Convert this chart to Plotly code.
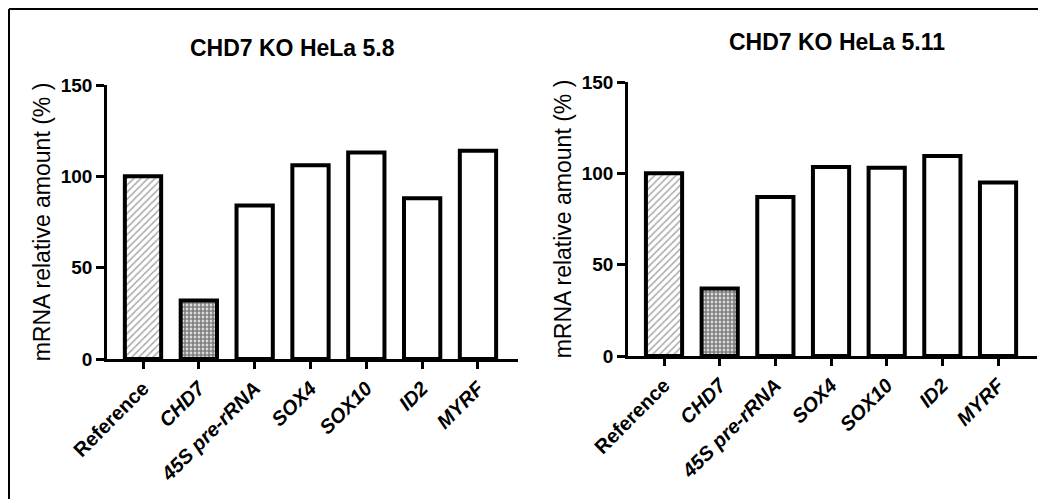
import plotly.graph_objects as go

categories = ["Reference", "CHD7", "45S pre-rRNA", "SOX4", "SOX10", "ID2", "MYRF"]
italic_flags = [False, True, True, True, True, True, True]
values_hela_5_8 = [100, 32, 84, 106, 113, 88, 114]
values_hela_5_11 = [100, 37, 87, 103.5, 103, 109.5, 95]
y_ticks = [0, 50, 100, 150]
titles = ["CHD7 KO HeLa 5.8", "CHD7 KO HeLa 5.11"]
y_title = "mRNA relative amount (% )"

# page body has an 8px margin: work in screen pixels, convert to paper coords
OFF = 8
W, H = 1046 - OFF, 499 - OFF
FONT = "Arial, Liberation Sans, sans-serif"

def px(x):
    return (x - OFF) / W

def py(y):
    return 1 - (y - OFF) / H

tick_text = [("<b><i>%s</i></b>" % c) if it else ("<b>%s</b>" % c) for c, it in zip(categories, italic_flags)]

pattern_shapes = ["/", ".", "", "", "", "", ""]
pattern_fg = ["#555555", "#000000", "#000000", "#000000", "#000000", "#000000", "#000000"]
pattern_sol = [0.3, 0.72, 0.3, 0.3, 0.3, 0.3, 0.3]
pattern_size = [5, 4, 8, 8, 8, 8, 8]

fig = go.Figure()
for i, vals in enumerate([values_hela_5_8, values_hela_5_11]):
    sfx = "" if i == 0 else "2"
    fig.add_trace(go.Bar(
        x=categories, y=vals, width=0.65,
        xaxis="x" + sfx, yaxis="y" + sfx,
        marker=dict(color="white",
                    line=dict(color="black", width=4),
                    pattern=dict(shape=pattern_shapes, fgcolor=pattern_fg, bgcolor="white",
                                 solidity=pattern_sol, size=pattern_size, fillmode="overlay")),
        showlegend=False, hoverinfo="skip",
    ))

def xax(domain, rng):
    return dict(domain=domain, range=rng, type="category", showline=True, linewidth=2.5, linecolor="black",
                ticks="outside", ticklen=7, tickwidth=2.5, tickcolor="black", tickangle=-45,
                tickmode="array", tickvals=categories, ticktext=tick_text,
                tickfont=dict(family=FONT, size=20, color="black"), automargin=False,
                showgrid=False, zeroline=False, fixedrange=True)

def yax(domain, anchor):
    return dict(domain=domain, range=[0, 150], anchor=anchor, showline=True, linewidth=2.5, linecolor="black",
                ticks="outside", ticklen=8, tickwidth=2.5, tickcolor="black",
                tickmode="array", tickvals=y_ticks, ticktext=["<b>%d</b>" % v for v in y_ticks],
                tickfont=dict(family=FONT, size=19, color="black"), automargin=False,
                title=dict(text=y_title, font=dict(family=FONT, size=23, color="black"), standoff=4),
                showgrid=False, zeroline=False, fixedrange=True)

fig.update_layout(
    width=W, height=H, autosize=False,
    margin=dict(l=0, r=0, t=0, b=0, autoexpand=False),
    paper_bgcolor="white", plot_bgcolor="white",
    xaxis=dict(xax([px(107), px(518)], [-0.645, 6.717]), anchor="y"),
    yaxis=yax([py(359), py(85)], "x"),
    xaxis2=dict(xax([px(628), px(1037)], [-0.647, 6.70]), anchor="y2"),
    yaxis2=yax([py(356), py(82)], "x2"),
    annotations=[
        dict(text="<b>%s</b>" % titles[0], x=px(292), y=py(48), xref="paper", yref="paper",
             xanchor="center", yanchor="middle", showarrow=False,
             font=dict(family=FONT, size=23, color="black")),
        dict(text="<b>%s</b>" % titles[1], x=px(837), y=py(42), xref="paper", yref="paper",
             xanchor="center", yanchor="middle", showarrow=False,
             font=dict(family=FONT, size=23, color="black")),
    ],
    shapes=[
        dict(type="line", xref="paper", yref="paper", x0=px(9), x1=px(9), y0=0, y1=py(9),
             line=dict(color="black", width=2)),
        dict(type="line", xref="paper", yref="paper", x0=px(9), x1=1, y0=py(9), y1=py(9),
             line=dict(color="black", width=2)),
    ],
)

fig.write_html("out.html")
